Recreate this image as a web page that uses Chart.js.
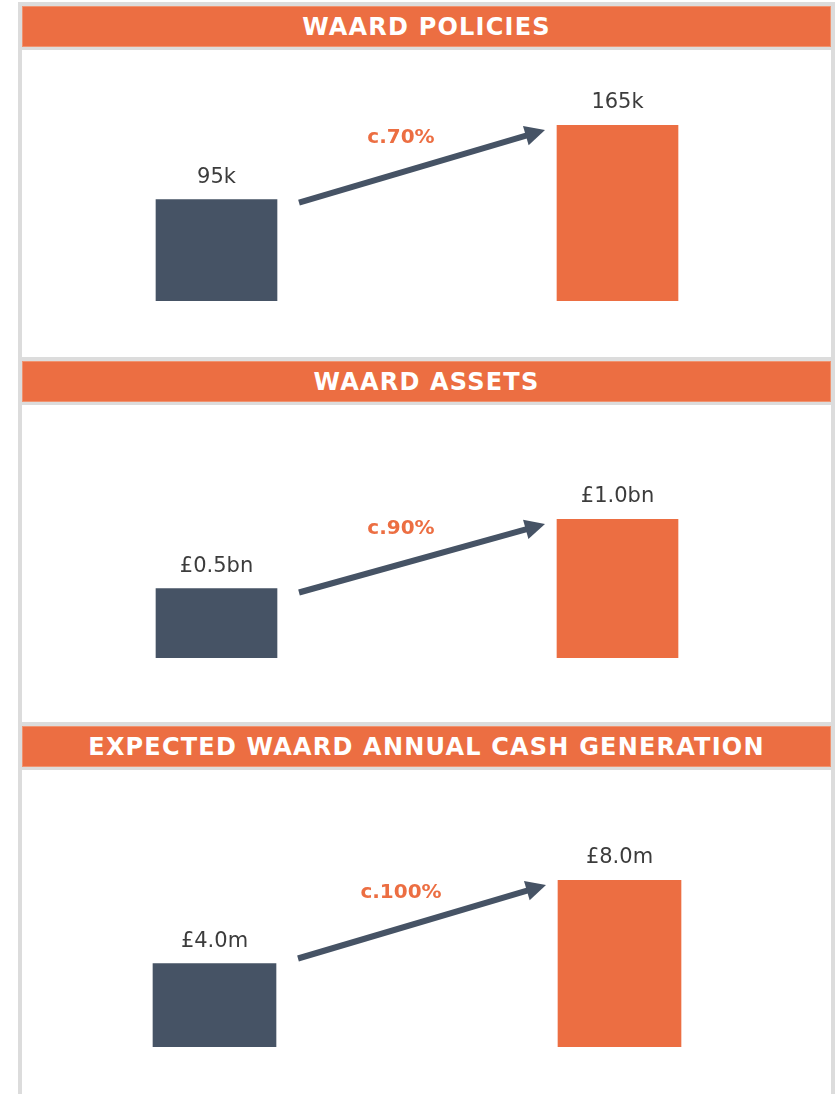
<!DOCTYPE html>
<html>
<head>
<meta charset="utf-8">
<script src="https://cdn.jsdelivr.net/npm/chart.js@4.4.1/dist/chart.umd.min.js"></script>
<style>
  html, body { margin: 0; padding: 0; background: #ffffff; }
  body { width: 837px; height: 1094px; position: relative; overflow: hidden; }
  #frame { position: absolute; left: 18px; top: 2px; width: 817px; height: 1100px; background: #dcdcdc; }
  .header {
    position: absolute; left: 22px; width: 809px; height: 41px;
    background: #ec6e42; box-shadow: inset 0 0 0 1px #f0936f;
    color: #ffffff; font-family: "DejaVu Sans", sans-serif; font-weight: bold;
    font-size: 24px; letter-spacing: 1.2px; text-align: center; line-height: 42px;
  }
  .content { position: absolute; left: 22px; width: 809px; background: #ffffff; }
  canvas { position: absolute; }
</style>
</head>
<body>
<div id="frame"></div>
<div id="page"></div>
<script>
// panel titles
var panelTitles = ['WAARD POLICIES', 'WAARD ASSETS', 'EXPECTED WAARD ANNUAL CASH GENERATION'];

// two periods per panel (not shown on the chart)
var periods = ['Current', 'Future'];

// values
var policiesValues = [95, 165];
var assetsValues = [0.5, 1.0];
var cashValues = [4.0, 8.0];

// text shown above each bar
var policiesLabels = ['95k', '165k'];
var assetsLabels = ['£0.5bn', '£1.0bn'];
var cashLabels = ['£4.0m', '£8.0m'];

// growth shown above the arrow
var growthLabels = ['c.70%', 'c.90%', 'c.100%'];

var barColors = ['#465365', '#ec6e42'];

// page layout for each panel (pixels)
var panelLayout = [
    { header: 6,   content: 50,  contentEnd: 357,  left: 16, width: 802, bottom: 301,  padTop: 75,  bar: 121, arrowDy: 3 },
    { header: 361, content: 405, contentEnd: 722,  left: 16, width: 802, bottom: 658,  padTop: 114, bar: 121, arrowDy: 4 },
    { header: 726, content: 770, contentEnd: 1100, left: 12, width: 810, bottom: 1047, padTop: 110, bar: 123, arrowDy: -5 }
];

var panelValues = [policiesValues, assetsValues, cashValues];
var panelLabels = [policiesLabels, assetsLabels, cashLabels];

var arrowPlugin = {
    id: 'arrowPlugin',
    afterDatasetsDraw: function (chart, args, opts) {
        var ctx = chart.ctx;
        var bars = chart.getDatasetMeta(0).data;
        ctx.save();

        // value labels above bars
        ctx.fillStyle = '#3c3c3c';
        ctx.font = '21px "DejaVu Sans"';
        ctx.textAlign = 'center';
        ctx.textBaseline = 'alphabetic';
        bars.forEach(function (bar, i) {
            ctx.fillText(opts.labels[i], bar.x, bar.y - 17);
        });

        // arrow from first bar to second
        var sx = bars[0].x + bars[0].width / 2 + 22;
        var sy = bars[0].y + opts.arrowDy;
        var ex = bars[1].x - bars[1].width / 2 - 12;
        var ey = bars[1].y + 5;
        var ang = Math.atan2(ey - sy, ex - sx);
        var headLen = 20, headHalf = 10;
        var bx = ex - Math.cos(ang) * headLen;
        var by = ey - Math.sin(ang) * headLen;

        ctx.strokeStyle = '#465365';
        ctx.fillStyle = '#465365';
        ctx.lineWidth = 6;
        ctx.beginPath();
        ctx.moveTo(sx, sy);
        ctx.lineTo(bx + Math.cos(ang) * 2, by + Math.sin(ang) * 2);
        ctx.stroke();

        ctx.beginPath();
        ctx.moveTo(ex, ey);
        ctx.lineTo(bx + Math.sin(ang) * headHalf, by - Math.cos(ang) * headHalf);
        ctx.lineTo(bx - Math.sin(ang) * headHalf, by + Math.cos(ang) * headHalf);
        ctx.closePath();
        ctx.fill();

        // growth label
        ctx.fillStyle = '#ec6e42';
        ctx.font = 'bold 20px "DejaVu Sans"';
        ctx.textBaseline = 'middle';
        ctx.fillText(opts.growth, (sx + ex) / 2 - 21, (sy + ey) / 2 - 29);
        ctx.restore();
    }
};

var page = document.getElementById('page');

panelLayout.forEach(function (lay, p) {
    var content = document.createElement('div');
    content.className = 'content';
    content.style.top = lay.content + 'px';
    content.style.height = (lay.contentEnd - lay.content) + 'px';
    page.appendChild(content);

    var header = document.createElement('div');
    header.className = 'header';
    header.style.top = lay.header + 'px';
    header.textContent = panelTitles[p];
    page.appendChild(header);

    var canvas = document.createElement('canvas');
    canvas.width = lay.width;
    canvas.height = lay.bottom - lay.content;
    canvas.style.left = lay.left + 'px';
    canvas.style.top = lay.content + 'px';
    canvas.style.width = lay.width + 'px';
    canvas.style.height = (lay.bottom - lay.content) + 'px';
    page.appendChild(canvas);

    var values = panelValues[p];

    new Chart(canvas.getContext('2d'), {
        type: 'bar',
        data: {
            labels: periods,
            datasets: [{
                data: values,
                backgroundColor: barColors,
                borderWidth: 0,
                barThickness: lay.bar
            }]
        },
        options: {
            responsive: false,
            animation: false,
            devicePixelRatio: 1,
            layout: { padding: { top: lay.padTop, bottom: 0, left: 0, right: 0 } },
            scales: {
                x: { display: false, offset: true },
                y: { display: false, beginAtZero: true, min: 0, max: Math.max.apply(null, values) }
            },
            plugins: {
                legend: { display: false },
                tooltip: { enabled: false },
                arrowPlugin: { labels: panelLabels[p], growth: growthLabels[p], arrowDy: lay.arrowDy }
            }
        },
        plugins: [arrowPlugin]
    });
});
</script>
</body>
</html>
